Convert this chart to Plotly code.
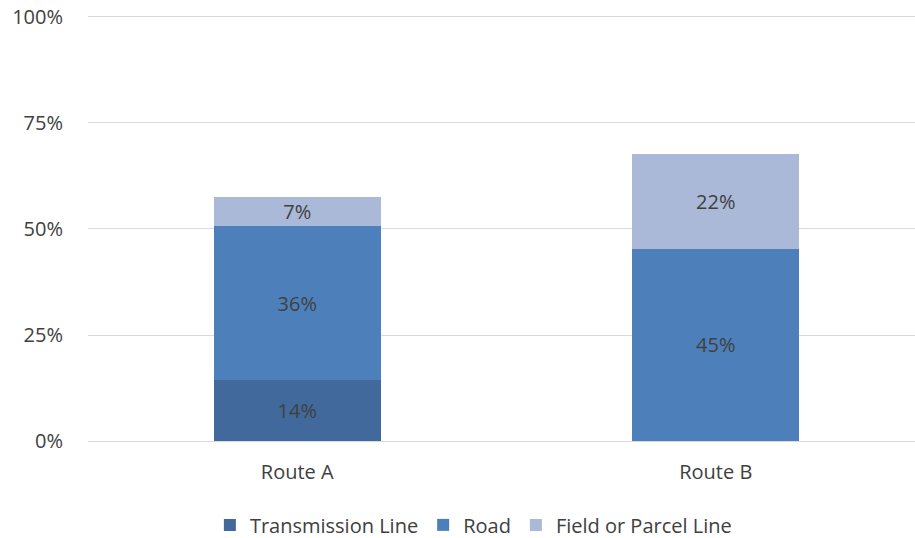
import plotly.graph_objects as go

categories = ["Route A", "Route B"]
transmission = [0.144, None]
road = [0.362, 0.453]
field = [0.069, 0.223]
series_names = ["Transmission Line", "Road", "Field or Parcel Line"]
colors = ["#41699C", "#4D80BB", "#AAB9D8"]
tick_vals = [0, 0.25, 0.5, 0.75, 1.0]
tick_text = ["0%", "25%", "50%", "75%", "100%"]

font_family = "Open Sans, Liberation Sans, sans-serif"
text_color = "#404040"

fig = go.Figure()
for name, vals, col in zip(series_names, [transmission, road, field], colors):
    fig.add_trace(go.Bar(
        x=categories, y=vals, name=name,
        marker=dict(color=col, line=dict(width=0)),
        texttemplate="%{y:.0%}", textposition="inside",
        insidetextanchor="middle",
        textfont=dict(family=font_family, size=20, color=text_color),
    ))

fig.update_layout(
    barmode="stack",
    bargap=0.601,
    width=915, height=538,
    margin=dict(l=88, r=0, t=13, b=97, autoexpand=False),
    paper_bgcolor="white", plot_bgcolor="white",
    font=dict(family=font_family, size=20, color=text_color),
    uniformtext=dict(mode="show", minsize=19),
    legend=dict(orientation="h", x=0.466, xanchor="center", y=-0.196, yanchor="middle",
                font=dict(size=20, color=text_color), traceorder="normal",
                itemwidth=30, tracegroupgap=0),
    xaxis=dict(showline=True, linecolor="#D9D9D9", linewidth=1, ticks="",
               range=[-0.5, 1.476],
               automargin=False, ticklabelstandoff=13,
               tickfont=dict(size=20, color=text_color)),
    yaxis=dict(range=[0, 1.0094], tickvals=tick_vals, ticktext=tick_text,
               showgrid=True, gridcolor="#D9D9D9", gridwidth=1, zeroline=False,
               automargin=False, ticks="", ticklabelstandoff=24,
               ticklabeloverflow="allow",
               tickfont=dict(size=20, color=text_color)),
)

fig.write_html("out.html",
               config={"displayModeBar": False},
               post_script="document.body.style.margin='0';document.body.style.overflow='hidden';")
